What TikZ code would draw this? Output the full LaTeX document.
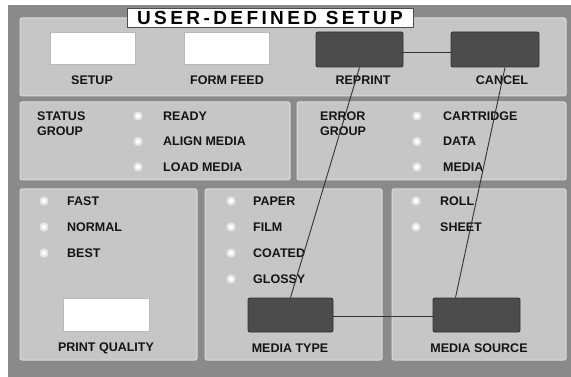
\documentclass[tikz,border=0pt]{standalone}
\usepackage{fontspec}
\setmainfont{Liberation Sans}
\usepackage{xcolor}
\usepackage{tikz}
\usetikzlibrary{positioning}

\definecolor{framegray}{HTML}{8A8A8A}
\definecolor{panelgray}{HTML}{C6C6C6}
\definecolor{keydark}{HTML}{4C4C4C}
\definecolor{inkgray}{HTML}{141414}
\definecolor{wiregray}{HTML}{333333}

\tikzset{
  panel/.style={fill=panelgray, draw=white!35!panelgray, line width=1pt, rounded corners=2pt},
  lightkey/.style={fill=white, draw=gray!55, inner sep=0pt},
  darkkey/.style={fill=keydark, draw=black!80, line width=0.9pt, rounded corners=2pt, inner sep=0pt},
  lamp/.style={circle, fill=white, draw=white!55!panelgray, line width=2pt, inner sep=0pt, minimum size=7pt},
  keytext/.style={text=inkgray, inner sep=0pt, font=\fontsize{12.5}{15}\selectfont\bfseries},
  wire/.style={draw=wiregray, line width=0.9pt}
}

\begin{document}
\begin{tikzpicture}[x=1pt, y=-1pt]

\useasboundingbox (0,0) rectangle (571,377);

% Frame
\fill[framegray] (8,5) rectangle (571,377);

% Panels
\path[panel] (20,18) rectangle (566,96);
\path[panel] (20,102) rectangle (290,180);
\path[panel] (297,102) rectangle (566,180);
\path[panel] (20,189) rectangle (197,360);
\path[panel] (205,189) rectangle (382,360);
\path[panel] (392,189) rectangle (566,360);

% Title
\node[fill=white, draw=black!70, minimum width=286pt, minimum height=19pt, inner sep=0pt,
  font=\fontsize{19}{19}\selectfont\bfseries\addfontfeature{LetterSpace=18}]
  (title) at (270,17.5) {USER-DEFINED SETUP};

% Top row keys
\node[lightkey, minimum width=85pt, minimum height=32pt] (setup) at (92.5,48) {};
\node[lightkey, minimum width=85pt, minimum height=32pt] (formfeed) at (226.5,48) {};
\node[darkkey, minimum width=87pt, minimum height=35pt] (reprint) at (359.5,49.5) {};
\node[darkkey, minimum width=88pt, minimum height=35pt] (cancel) at (495,49.5) {};

\node[keytext] (setuptxt) at (92,80) {SETUP};
\node[keytext] (formfeedtxt) at (227,80) {FORM FEED};
\node[keytext] (reprinttxt) at (363,80) {REPRINT};
\node[keytext] (canceltxt) at (502,80) {CANCEL};

% Status group
\node[keytext, anchor=north west, align=left]
  (statustxt) at (37,112) {STATUS\\GROUP};
\foreach \lbl [count=\i] in {READY, ALIGN MEDIA, LOAD MEDIA} {
  \node[lamp] (status\i) at (138,{90.5+25.5*\i}) {};
  \node[keytext, anchor=west] (statuslbl\i) at (163,{90.5+25.5*\i}) {\lbl};
}

% Error group
\node[keytext, anchor=north west, align=left]
  (errortxt) at (320,112) {ERROR\\GROUP};
\foreach \lbl [count=\i] in {CARTRIDGE, DATA, MEDIA} {
  \node[lamp] (error\i) at (417,{90.5+25.5*\i}) {};
  \node[keytext, anchor=west] (errorlbl\i) at (443,{90.5+25.5*\i}) {\lbl};
}

% Print quality
\foreach \lbl [count=\i] in {FAST, NORMAL, BEST} {
  \node[lamp] (quality\i) at (44,{175+26*\i}) {};
  \node[keytext, anchor=west] (qualitylbl\i) at (67,{175+26*\i}) {\lbl};
}
\node[lightkey, minimum width=86pt, minimum height=33pt] (quality) at (106,314.5) {};
\node[keytext] (qualitytxt) at (106,348) {PRINT QUALITY};

% Media type
\foreach \lbl [count=\i] in {PAPER, FILM, COATED, GLOSSY} {
  \node[lamp] (type\i) at (231,{175+26*\i}) {};
  \node[keytext, anchor=west] (typelbl\i) at (253,{175+26*\i}) {\lbl};
}
\node[darkkey, minimum width=85pt, minimum height=34pt] (mediatype) at (290.5,315) {};
\node[keytext] (mediatypetxt) at (290,348) {MEDIA TYPE};

% Media source
\foreach \lbl [count=\i] in {ROLL, SHEET} {
  \node[lamp] (source\i) at (416,{175+26*\i}) {};
  \node[keytext, anchor=west] (sourcelbl\i) at (440,{175+26*\i}) {\lbl};
}
\node[darkkey, minimum width=87pt, minimum height=34pt] (mediasource) at (476.5,315) {};
\node[keytext] (mediasourcetxt) at (479,348) {MEDIA SOURCE};

% Wires
\draw[wire] ([yshift=-3pt]reprint.east) -- ([yshift=-3pt]cancel.west);
\draw[wire] ([yshift=-1pt]mediatype.east) -- ([yshift=-1pt]mediasource.west);
\draw[wire] (reprint.south) -- (mediatype.north);
\draw[wire] ([xshift=10pt]cancel.south) -- ([xshift=-21pt]mediasource.north);

\end{tikzpicture}
\end{document}
